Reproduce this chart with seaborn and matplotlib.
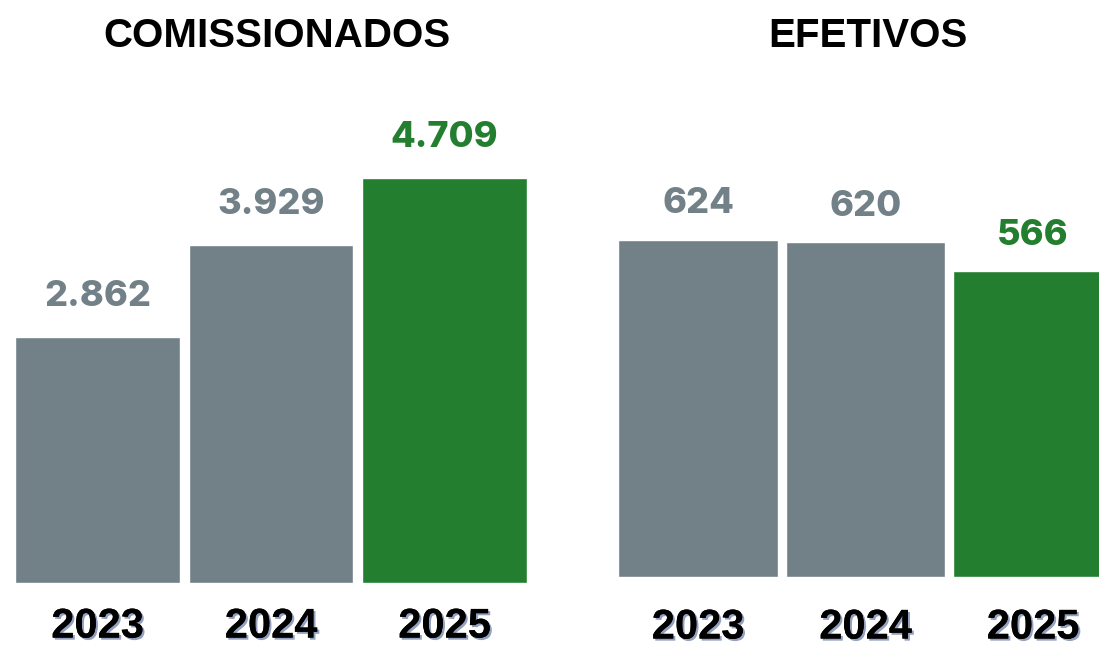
import matplotlib
matplotlib.use('Agg')
import matplotlib.pyplot as plt
import matplotlib.patheffects as pe
import seaborn as sns
import pandas as pd

# dados
anos = ['2023', '2024', '2025']
comissionados = [2862, 3929, 4709]
efetivos = [624, 620, 566]
titulos = ['COMISSIONADOS', 'EFETIVOS']

cinza = '#728088'
verde = '#237F2F'
cores = [cinza, cinza, verde]

sns.set_style('white')
plt.rcParams['font.family'] = ['Liberation Sans', 'DejaVu Sans']

W, H = 1099, 647
fig = plt.figure(figsize=(W / 100, H / 100), dpi=100)

def fmt(v):
    return f'{v:,}'.replace(',', '.')

# (left px, width px, bottom px from top, top px, ymax, title x, label gap pt, tick pad pt)
paineis = [
    (comissionados, 10.75, 520.5, 583, 100, 483 / 0.0860, 0.5115, 17, 17),
    (efetivos, 614.25, 502.5, 577, 100, 477 / 0.5403, 0.505, 14, 22),
]

sombra = [pe.withSimplePatchShadow(offset=(1.5, -1.5), shadow_rgbFace='#8796b8', alpha=0.9),
          pe.Normal()]

for i, (vals, l, w, b, t, ymax, tx, gap, pad) in enumerate(paineis):
    ax = fig.add_axes([l / W, (H - b) / H, w / W, (b - t) / H])
    df = pd.DataFrame({'ano': anos, 'valor': vals})
    sns.barplot(data=df, x='ano', y='valor', hue='ano', palette=cores,
                width=0.95, legend=False, ax=ax, saturation=1)
    ax.set_xlim(-0.5, 2.5)
    ax.set_ylim(0, ymax)
    for j, v in enumerate(vals):
        ax.annotate(fmt(v), (j, v), xytext=(0, gap), textcoords='offset points',
                    ha='center', va='bottom', fontsize=26, fontweight=800,
                    color=cores[j], family=['Inter', 'DejaVu Sans'])
    ax.set_title(titulos[i], fontsize=29, fontweight='bold', color='black',
                 pad=38.5, x=tx)
    ax.set_xlabel('')
    ax.set_ylabel('')
    ax.set_yticks([])
    ax.tick_params(axis='x', length=0, pad=pad)
    for lab in ax.get_xticklabels():
        lab.set_fontsize(30)
        lab.set_fontweight('bold')
        lab.set_color('black')
        lab.set_path_effects(sombra)
    sns.despine(ax=ax, left=True, bottom=True)

fig.savefig('out.png', dpi=100)
